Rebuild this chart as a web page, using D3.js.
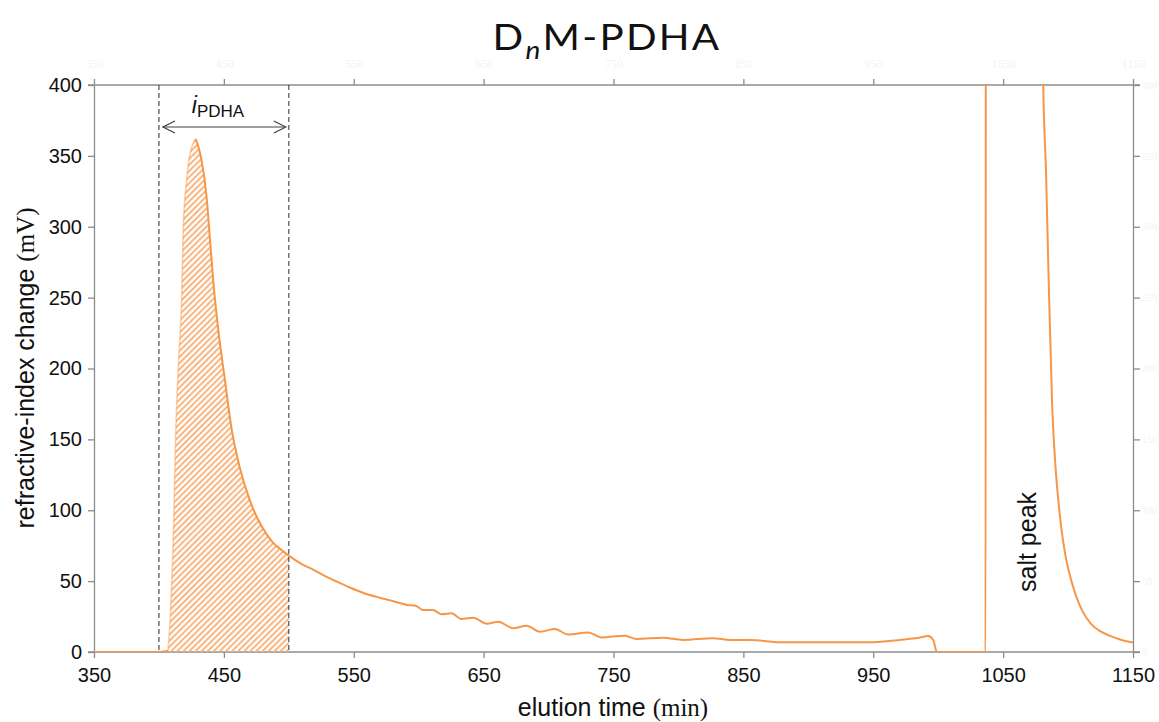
<!DOCTYPE html>
<html lang="en">
<head>
  <meta charset="utf-8">
  <title>DnM-PDHA elution</title>
  <script src="https://d3js.org/d3.v7.min.js"></script>
  <style>
    body { margin: 0; background: #fff; }
    svg { display: block; font-family: "Liberation Sans", Arial, sans-serif; }
  </style>
</head>
<body>
  <svg id="chart" width="1159" height="722"></svg>

  <script>
    // elution time (min) and refractive-index change (mV)
    const times = [350, 400, 405, 407, 409, 411, 413, 415, 417.5, 418.7, 421.3, 424, 426.4, 428.3,
      430.5, 432.8, 436.7, 439.3, 441.8, 445.7, 450.8, 456, 462, 470, 476, 483, 488, 493, 500,
      510, 519, 528, 537, 547, 557, 570, 580, 591, 598, 603.5, 611, 617.6, 625.3, 633, 642,
      652.3, 661.2, 672.8, 683, 693.4, 704.9, 715.1, 730.5, 740.8, 758.8, 767.7, 788.2,
      803.6, 826.7, 839.6, 855, 880.6, 944.8, 970.5, 985, 992.3, 996.2, 999,
      1036.5, 1036.7, 1079.5, 1080.9, 1083, 1084.8, 1087.6, 1090, 1092.5, 1095, 1098,
      1102, 1106, 1111, 1118, 1125, 1132, 1140, 1150];
    const signal = [0, 0, 0.5, 1, 30, 79, 157, 203, 250, 298, 333, 352, 359, 362,
      356, 347, 321, 291, 262, 227, 192, 157, 131, 107, 94, 83, 77, 73, 68,
      62, 58, 53.5, 49.6, 45.5, 41.8, 38.3, 36, 33.2, 32.5, 29.6, 29.6, 26.6, 27.3, 23.3, 24.2,
      20, 21.4, 16.7, 18.6, 14.3, 16.2, 12.4, 13.8, 10.3, 11.5, 9.2, 10.1,
      8.5, 9.7, 8.5, 8.5, 6.8, 6.8, 8.5, 10, 11.3, 8.5, 0,
      0, 600, 600, 400, 340, 272, 178, 135, 107, 86, 68,
      52, 40, 29, 19.5, 14.5, 11.5, 8.8, 6.6];

    const xTicks = [350, 450, 550, 650, 750, 850, 950, 1050, 1150];
    const yTicks = [0, 50, 100, 150, 200, 250, 300, 350, 400];
    const windowPDHA = [400, 500];   // integration window i_PDHA
    const riseStart = 407, peakTime = 428.3;

    const data = times.map((t, i) => ({ t, v: signal[i] }));

    const margin = { left: 94, right: 26, top: 85, bottom: 70 };
    const W = 1159, H = 722;
    const svg = d3.select("#chart");

    const x = d3.scaleLinear().domain([350, 1150]).range([margin.left, W - margin.right]);
    const y = d3.scaleLinear().domain([0, 400]).range([H - margin.bottom, margin.top]);

    const axisColor = "#8c8c8c";
    const orange = "#f79646";
    const fmt = d3.format("d");

    // hatch pattern
    const defs = svg.append("defs");
    defs.append("pattern")
        .attr("id", "hatch")
        .attr("patternUnits", "userSpaceOnUse")
        .attr("width", 4.3).attr("height", 4.3)
        .attr("patternTransform", "rotate(45)")
      .append("line")
        .attr("x1", 1).attr("y1", 0).attr("x2", 1).attr("y2", 4.3)
        .attr("stroke", "#f8b27a").attr("stroke-width", 1.9);

    defs.append("clipPath").attr("id", "plotClip")
      .append("rect")
        .attr("x", x(350)).attr("y", y(400) - 1)
        .attr("width", x(1150) - x(350)).attr("height", y(0) - y(400) + 1);

    defs.append("marker")
        .attr("id", "chev")
        .attr("viewBox", "0 0 14 14")
        .attr("refX", 13).attr("refY", 7)
        .attr("markerWidth", 14).attr("markerHeight", 14)
        .attr("markerUnits", "userSpaceOnUse")
        .attr("orient", "auto-start-reverse")
      .append("path")
        .attr("d", "M1,1 L13,7 L1,13")
        .attr("fill", "none").attr("stroke", "#404040").attr("stroke-width", 1.2);

    // axes; top and right carry only ghost labels
    const gTop = svg.append("g").attr("transform", `translate(0,${y(400)})`)
        .call(d3.axisTop(x).tickValues(xTicks).tickFormat(fmt).tickSize(6).tickSizeOuter(0));
    const gRight = svg.append("g").attr("transform", `translate(${x(1150)},0)`)
        .call(d3.axisRight(y).tickValues(yTicks).tickFormat(fmt).tickSize(7).tickSizeOuter(0));
    const gBottom = svg.append("g").attr("transform", `translate(0,${y(0)})`)
        .call(d3.axisBottom(x).tickValues(xTicks).tickFormat(fmt).tickSize(6).tickSizeOuter(0));
    const gLeft = svg.append("g").attr("transform", `translate(${x(350)},0)`)
        .call(d3.axisLeft(y).tickValues(yTicks).tickFormat(fmt).tickSize(6).tickSizeOuter(0));

    [gTop, gRight, gBottom, gLeft].forEach(g => {
      g.select(".domain").attr("stroke", axisColor).attr("stroke-width", 1.3);
      g.selectAll(".tick line").attr("stroke", axisColor).attr("stroke-width", 1.3);
    });
    [gTop, gRight].forEach(g => {
      g.selectAll(".tick text").attr("fill", "#f3f3f3")
        .style("font-family", "'Liberation Serif', serif").style("font-size", "12px");
    });
    gTop.selectAll(".tick text").attr("dy", "-0.7em");
    gRight.selectAll(".tick text").style("font-size", "10px").attr("x", 9);
    gBottom.selectAll(".tick text").attr("fill", "#111").style("font-size", "20px").attr("dy", "1.05em");
    gLeft.selectAll(".tick text").attr("fill", "#111").style("font-size", "20px").attr("dx", "-0.15em");

    // extend top / bottom domain to span the outer ticks
    [gTop, gBottom].forEach(g => g.select(".domain")
      .attr("d", `M${x(350) - 6},0H${x(1150) + 7}`));

    // hatched area inside integration window
    const inWin = data.filter(d => d.t >= windowPDHA[0] && d.t <= windowPDHA[1]);
    svg.append("path")
        .datum(inWin)
        .attr("fill", "url(#hatch)")
        .attr("d", d3.area().curve(d3.curveMonotoneX)
          .x(d => x(d.t)).y0(y(0)).y1(d => y(d.v)));

    // dashed window lines
    svg.append("g").selectAll("line")
      .data(windowPDHA)
      .join("line")
        .attr("x1", d => x(d)).attr("x2", d => x(d))
        .attr("y1", y(400)).attr("y2", y(0))
        .attr("stroke", "#404040").attr("stroke-width", 1.1)
        .attr("stroke-dasharray", "5,3");

    // signal line
    const line = d3.line().curve(d3.curveMonotoneX).x(d => x(d.t)).y(d => y(d.v));
    const gLine = svg.append("g").attr("clip-path", "url(#plotClip)")
        .attr("fill", "none").attr("stroke", orange).attr("stroke-width", 2);
    gLine.append("path").datum(data.filter(d => d.t <= riseStart)).attr("d", line);
    gLine.append("path").datum(data.filter(d => d.t >= riseStart && d.t <= peakTime))
        .attr("stroke-opacity", 0.45).attr("stroke-width", 1.6).attr("d", line);
    gLine.append("path").datum(data.filter(d => d.t >= peakTime)).attr("d", line);

    // double arrow and i_PDHA label
    svg.append("line")
        .attr("x1", x(windowPDHA[0]) + 4).attr("x2", x(windowPDHA[1]) - 3)
        .attr("y1", 127).attr("y2", 127)
        .attr("stroke", "#404040").attr("stroke-width", 1.2)
        .attr("marker-start", "url(#chev)").attr("marker-end", "url(#chev)");

    const lab = svg.append("text")
        .attr("x", 218).attr("y", 113)
        .attr("text-anchor", "middle").attr("fill", "#111");
    lab.append("tspan").attr("font-style", "italic").attr("font-size", 23).text("i");
    lab.append("tspan").attr("font-size", 17).attr("dy", 4).text("PDHA");

    // salt peak label
    svg.append("text")
        .attr("transform", `translate(1036,592) rotate(-90)`)
        .attr("font-size", 25).attr("fill", "#111")
        .text("salt peak");

    // title
    const title = svg.append("text")
        .attr("transform", "translate(607,50) scale(1.12,1)")
        .attr("text-anchor", "middle")
        .attr("letter-spacing", 2)
        .style("font-family", "Lato, 'Open Sans', sans-serif")
        .attr("font-size", 36).attr("fill", "#111");
    title.append("tspan").text("D");
    title.append("tspan").attr("font-style", "italic").attr("font-size", 25).attr("dy", 9).text("n");
    title.append("tspan").attr("dy", -9).text("M-PDHA");

    // axis titles
    const xt = svg.append("text")
        .attr("x", 613).attr("y", 716)
        .attr("text-anchor", "middle").attr("font-size", 25).attr("fill", "#111");
    xt.append("tspan").text("elution time ");
    xt.append("tspan").style("font-family", "'Liberation Serif', serif").text("(min)");

    const yt = svg.append("text")
        .attr("transform", `translate(34,368) rotate(-90)`)
        .attr("text-anchor", "middle").attr("font-size", 25).attr("fill", "#111");
    yt.append("tspan").text("refractive-index change ");
    yt.append("tspan").style("font-family", "'Liberation Serif', serif").text("(mV)");
  </script>
</body>
</html>
